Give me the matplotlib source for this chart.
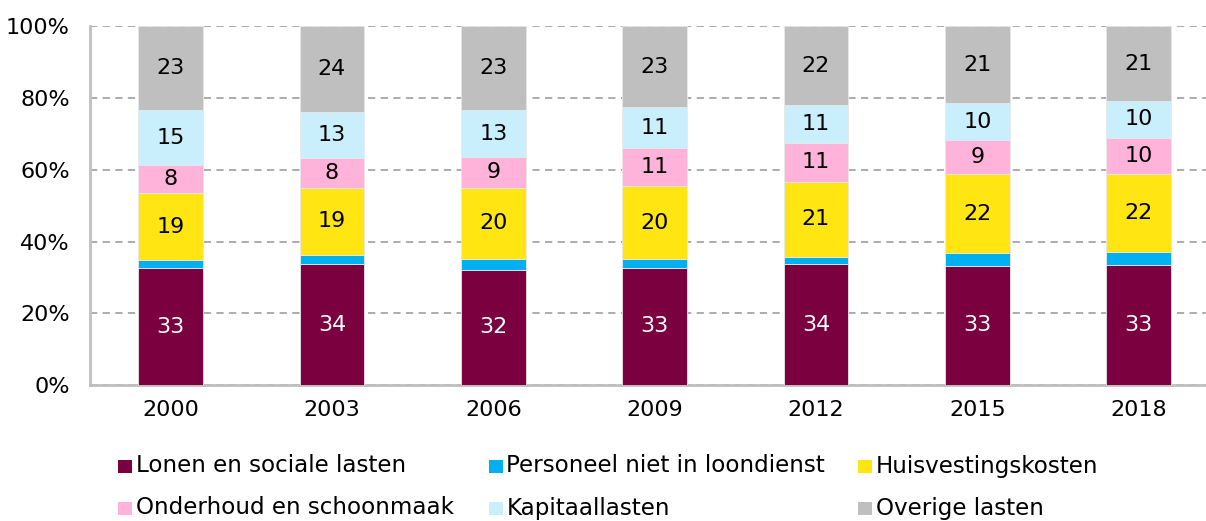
import matplotlib
matplotlib.use("Agg")
import matplotlib.pyplot as plt
from matplotlib.patches import Rectangle
import numpy as np

plt.rcParams['font.family'] = ['DejaVu Sans']

years = ['2000', '2003', '2006', '2009', '2012', '2015', '2018']
series_names = ['Lonen en sociale lasten', 'Personeel niet in loondienst', 'Huisvestingskosten',
                'Onderhoud en schoonmaak', 'Kapitaallasten', 'Overige lasten']
lonen      = [32.6, 33.7, 32.2, 32.7, 33.6, 33.2, 33.4]
personeel  = [2.2, 2.5, 3.0, 2.3, 2.2, 3.6, 3.7]
huisvest   = [18.6, 18.8, 19.7, 20.4, 20.8, 22.0, 21.6]
onderhoud  = [8.0, 8.4, 8.7, 10.6, 10.9, 9.4, 10.2]
kapitaal   = [15.2, 12.6, 13.0, 11.4, 10.6, 10.4, 10.3]
overige    = [23.4, 24.0, 23.4, 22.6, 21.9, 21.4, 20.8]
colors = ['#7B003F', '#00B0F0', '#FFE511', '#FFB3DA', '#C9EEFC', '#BFBFBF']
show_label = [True, False, True, True, True, True]
label_color = ['white', 'black', 'black', 'black', 'black', 'black']

data = [lonen, personeel, huisvest, onderhoud, kapitaal, overige]

fig = plt.figure(figsize=(12.06, 5.21), dpi=100)
ax = fig.add_axes([0.0746, 0.261, 0.9364, 0.6885])

x = np.arange(len(years))
bottom = np.zeros(len(years))
for vals, col, sl, lc in zip(data, colors, show_label, label_color):
    vals = np.array(vals)
    ax.bar(x, vals, width=0.40, bottom=bottom, color=col, edgecolor='#E8E8E8',
           linewidth=0.6, zorder=3)
    if sl:
        for xi, b, v in zip(x, bottom, vals):
            ax.text(xi, b + v / 2, f"{int(round(v))}", ha='center', va='center',
                    color=lc, fontsize=16, zorder=4)
    bottom += vals

ax.set_xlim(-0.5, 6.5)
ax.set_ylim(0, 100)
ax.set_yticks(np.arange(0, 101, 20))
ax.set_yticklabels([f"{v}%" for v in range(0, 101, 20)])
ax.set_xticks(x)
ax.set_xticklabels(years)
ax.tick_params(axis='both', length=0, labelsize=16, colors='black')
ax.tick_params(axis='x', pad=11)
ax.tick_params(axis='y', pad=14.5)
ax.yaxis.grid(True, linestyle=(0, (4, 3)), color='#A6A6A6', linewidth=1.3, zorder=0)
ax.set_axisbelow(True)
for s in ['top', 'right']:
    ax.spines[s].set_visible(False)
for s in ['left', 'bottom']:
    ax.spines[s].set_color('#BFBFBF')
    ax.spines[s].set_linewidth(2)

# legend (row-major, 3 columns)
leg_x = [118, 489, 858]
leg_y = [466, 508]
W, H = 1206, 521
for i, (name, col) in enumerate(zip(series_names, colors)):
    r, c = divmod(i, 3)
    px, py = leg_x[c], leg_y[r]
    fig.patches.append(Rectangle((px / W, (H - py - 7) / H), 13.5 / W, 13.5 / H,
                                 transform=fig.transFigure, facecolor=col,
                                 edgecolor='none'))
    fig.text((px + 17.5) / W, (H - py) / H, name, ha='left', va='center', fontsize=16.6)

fig.savefig('out.png', dpi=100)
